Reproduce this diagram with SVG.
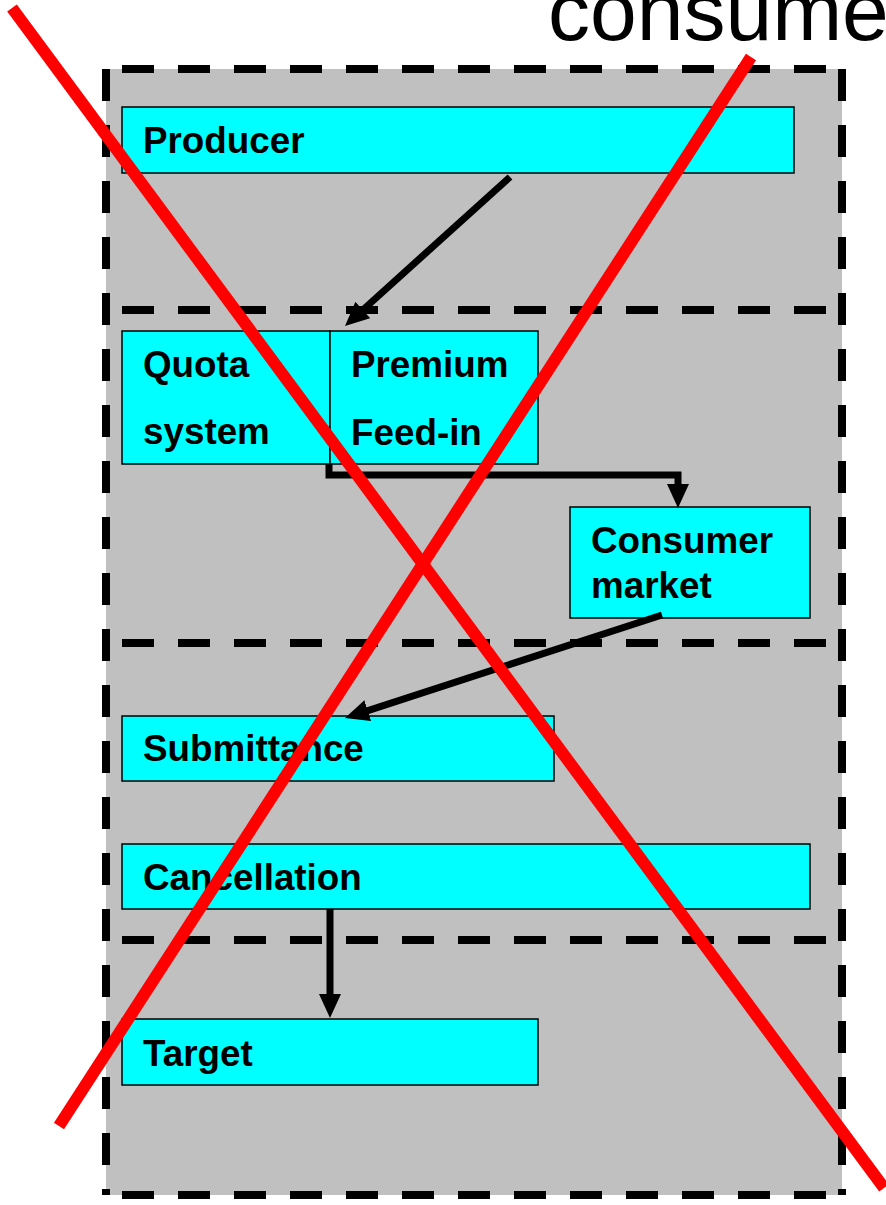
<svg xmlns="http://www.w3.org/2000/svg" width="886" height="1205" viewBox="0 0 886 1205">
<style>
.h{fill:none;stroke:#000;stroke-width:8;stroke-dasharray:32 24;stroke-dashoffset:40}
.v{fill:none;stroke:#000;stroke-width:8;stroke-dasharray:32 24}
.box{fill:#00FFFF;stroke:#000;stroke-width:1.5}
.lbl{font-family:"Liberation Sans",Arial,sans-serif;font-weight:bold;font-size:36.8px;fill:#000}
.con{fill:none;stroke:#000;stroke-width:7}
.cross{stroke:#FF0000;stroke-width:12;fill:none}
</style>
<defs>
<marker id="ah" markerUnits="userSpaceOnUse" markerWidth="26" markerHeight="24" refX="12" refY="11" orient="auto">
<path d="M0,0 L24,11 L0,22 z" fill="#000"/>
</marker>
</defs>
<rect width="886" height="1205" fill="#fff"/>
<text x="548" y="40" font-family="'Liberation Sans',Arial,sans-serif" font-size="84" fill="#000">consume</text>
<rect x="106" y="69" width="736" height="1126" fill="#C0C0C0"/>
<g id="sections">
<path class="v" d="M106,69 V1195"/>
<path class="v" d="M842,69 V1195"/>
<path class="h" d="M106,69 H842"/>
<path class="h" d="M106,310 H842"/>
<path class="h" d="M106,643 H842"/>
<path class="h" d="M106,940 H842"/>
<path class="h" d="M106,1195 H842"/>
</g>
<g id="producer"><rect class="box" x="122" y="107" width="672" height="66"/><text class="lbl" x="143" y="153">Producer</text></g>
<g id="quota"><rect class="box" x="122" y="331" width="208" height="133"/><text class="lbl" x="143" y="377">Quota</text><text class="lbl" x="143" y="444">system</text></g>
<g id="premium"><rect class="box" x="330" y="331" width="208" height="133"/><text class="lbl" x="351" y="377">Premium</text><text class="lbl" x="351" y="445">Feed-in</text></g>
<g id="consumer"><rect class="box" x="570" y="507" width="240" height="111"/><text class="lbl" x="591" y="553">Consumer</text><text class="lbl" x="591" y="598">market</text></g>
<g id="submittance"><rect class="box" x="122" y="716" width="432" height="65"/><text class="lbl" x="143" y="761">Submittance</text></g>
<g id="cancellation"><rect class="box" x="122" y="844" width="688" height="65"/><text class="lbl" x="143" y="890">Cancellation</text></g>
<g id="target"><rect class="box" x="122" y="1019" width="416" height="66"/><text class="lbl" x="143" y="1066">Target</text></g>
<g id="connectors">
<path class="con" d="M510,177 L353.9,318" marker-end="url(#ah)"/>
<path class="con" d="M329,464 V475 H678 V496" marker-end="url(#ah)"/>
<path class="con" d="M662,615 L356.4,714.3" marker-end="url(#ah)"/>
<path class="con" d="M330,909 V1006" marker-end="url(#ah)"/>
</g>
<g id="cross">
<line class="cross" x1="12" y1="8" x2="884" y2="1188"/>
<line class="cross" x1="751" y1="57" x2="59" y2="1126"/>
</g>
</svg>
